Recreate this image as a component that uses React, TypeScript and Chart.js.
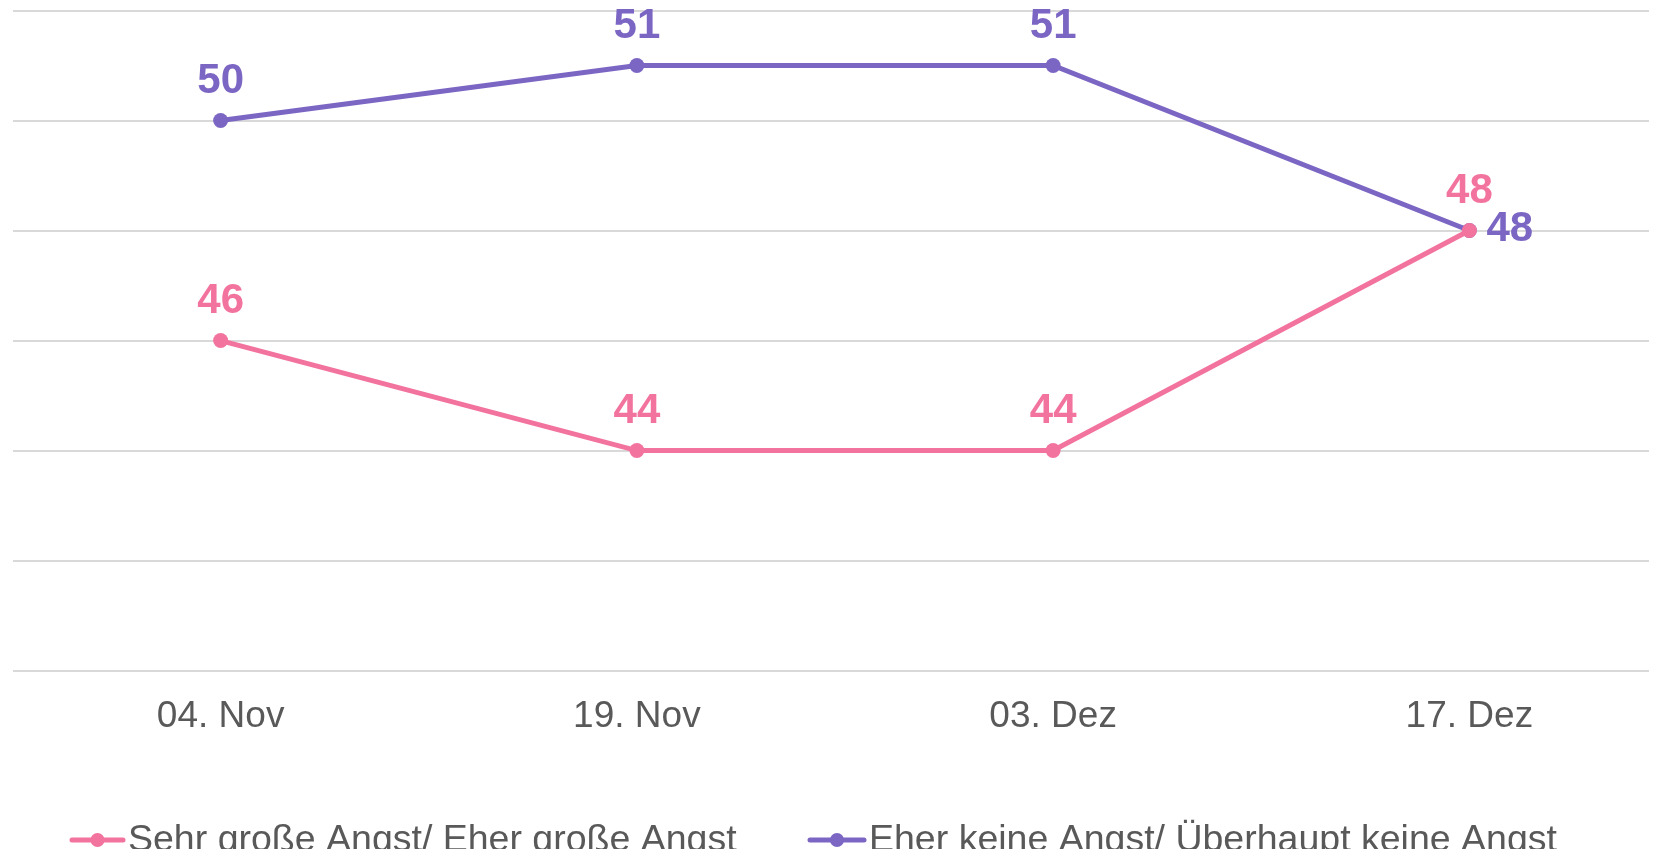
import React, { useEffect, useRef } from "react";
import { Chart, registerables } from "chart.js";

Chart.register(...registerables);

const categories = ["04. Nov", "19. Nov", "03. Dez", "17. Dez"];
const angstValues = [46, 44, 44, 48];
const keineAngstValues = [50, 51, 51, 48];
const seriesNames = ["Sehr große Angst/ Eher große Angst", "Eher keine Angst/ Überhaupt keine Angst"];
const seriesColors = ["#F3739F", "#7C66C4"];
const yMin = 40;
const yMax = 52;
const yStep = 2;

const FONT = '"Liberation Sans", Arial, sans-serif';

const labelPlugin = {
  id: "valueLabels",
  afterDatasetsDraw(chart: any) {
    const ctx = chart.ctx;
    ctx.save();
    ctx.font = `bold 42px ${FONT}`;
    ctx.textBaseline = "middle";
    const ds0 = chart.data.datasets[0].data;
    const ds1 = chart.data.datasets[1].data;
    chart.data.datasets.forEach((ds: any, di: number) => {
      const meta = chart.getDatasetMeta(di);
      meta.data.forEach((pt: any, i: number) => {
        const v = ds.data[i];
        ctx.fillStyle = ds.borderColor;
        const tie = ds0[i] === ds1[i];
        if (tie && di === 1) {
          ctx.textAlign = "left";
          ctx.fillText(String(v), pt.x + 17, pt.y - 1);
        } else {
          ctx.textAlign = "center";
          ctx.fillText(String(v), pt.x, pt.y - 39);
        }
      });
    });
    ctx.restore();
  },
};

const legendPlugin = {
  id: "customLegend",
  afterDraw(chart: any) {
    const ctx = chart.ctx;
    ctx.save();
    const items = [
      { x: 65, w: 55 },
      { x: 803, w: 58 },
    ];
    const y = 837;
    chart.data.datasets.forEach((ds: any, i: number) => {
      const it = items[i];
      ctx.strokeStyle = ds.borderColor;
      ctx.lineWidth = 5;
      ctx.lineCap = "round";
      ctx.beginPath();
      ctx.moveTo(it.x + 2, y);
      ctx.lineTo(it.x + it.w - 2, y);
      ctx.stroke();
      ctx.fillStyle = ds.borderColor;
      ctx.beginPath();
      ctx.arc(it.x + it.w / 2, y, 7, 0, Math.PI * 2);
      ctx.fill();
      ctx.fillStyle = "#595959";
      ctx.font = `37.5px ${FONT}`;
      ctx.textAlign = "left";
      ctx.textBaseline = "middle";
      ctx.fillText(ds.label, it.x + it.w + 3, y + 1);
    });
    ctx.restore();
  },
};

export default function App() {
  const ref = useRef<HTMLCanvasElement | null>(null);
  useEffect(() => {
    if (!ref.current) return;
    const chart = new Chart(ref.current, {
      type: "line",
      data: {
        labels: categories,
        datasets: [
          {
            label: seriesNames[0],
            data: angstValues,
            borderColor: seriesColors[0],
            backgroundColor: seriesColors[0],
            borderWidth: 5,
            pointRadius: 7.5,
            pointBorderWidth: 0,
            pointBackgroundColor: seriesColors[0],
            tension: 0,
          },
          {
            label: seriesNames[1],
            data: keineAngstValues,
            borderColor: seriesColors[1],
            backgroundColor: seriesColors[1],
            borderWidth: 5,
            pointRadius: 7.5,
            pointBorderWidth: 0,
            pointBackgroundColor: seriesColors[1],
            tension: 0,
          },
        ],
      },
      options: {
        responsive: false,
        animation: false,
        layout: { padding: { left: 2, top: 0.3, right: 0, bottom: 86 } },
        plugins: {
          legend: { display: false },
          tooltip: { enabled: false },
        },
        scales: {
          x: {
            offset: true,
            grid: { display: false, drawTicks: false },
            border: { display: false },
            ticks: {
              color: "#595959",
              font: { family: FONT, size: 37 },
              padding: 24,
              maxRotation: 0,
            },
          },
          y: {
            min: yMin,
            max: yMax,
            ticks: { display: false, stepSize: yStep },
            grid: { color: "#d9d9d9", lineWidth: 2, drawTicks: false },
            border: { display: false },
          },
        },
      },
      plugins: [labelPlugin, legendPlugin],
    });
    return () => chart.destroy();
  }, []);
  return (
    <div style={{ width: 1649, height: 841, overflow: "hidden", position: "relative" }}>
      <canvas
        ref={ref}
        width={1680}
        height={846}
        style={{ display: "block", marginTop: -5, marginLeft: -3 }}
      />
    </div>
  );
}
